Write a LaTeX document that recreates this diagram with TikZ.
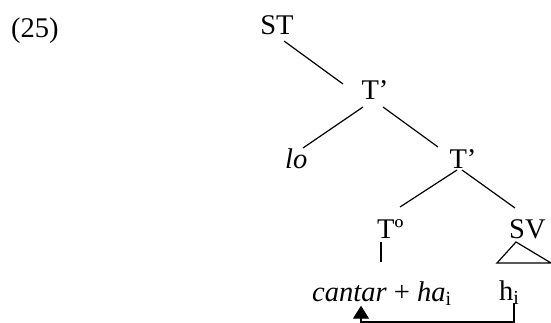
\documentclass[tikz,border=0pt]{standalone}
\usepackage{fontspec}
\setmainfont{Liberation Serif}
\usetikzlibrary{calc,arrows.meta}
\begin{document}
\begin{tikzpicture}[x=1pt,y=-1pt,
  lbl/.style={inner sep=0pt,font=\fontsize{28.5}{34}\selectfont},
  edge/.style={line width=1.2pt},
  arr/.style={line width=1.2pt,-{Triangle[width=16pt,length=13pt]}}]
\useasboundingbox (0,0) rectangle (551,323);
\node[lbl,anchor=base west] (num) at (11,38) {(25)};
\node[lbl,anchor=base] (st) at (277,34.5) {ST};
\node[lbl,anchor=base] (t1) at (375,100) {T’};
\node[lbl,anchor=base west] (lo) at (285,169) {\itshape lo};
\node[lbl,anchor=base] (t2) at (463,169) {T’};
\node[lbl,anchor=base west] (t0) at (377,238) {Tº};
\node[lbl,anchor=base west] (sv) at (509,238) {SV};
\node[lbl,anchor=base west] (cant) at (312,301) {\textit{cantar} + \textit{ha}\textsubscript{i}};
\node[lbl,anchor=base west] (hi) at (499,300) {h\textsubscript{i}};
% edges
\draw[edge] ($(st.base)+(7,6.5)$) -- ($(t1.base)+(-32,-16)$);
\draw[edge] ($(t1.base)+(-12,7)$) -- ($(lo.base west)+(18,-21)$);
\draw[edge] ($(t1.base)+(8,7)$) -- ($(t2.base)+(-25,-22)$);
\draw[edge] ($(t2.base)+(-6,1)$) -- ($(t0.base west)+(23,-31)$);
\draw[edge] ($(t2.base)+(-1,1)$) -- ($(sv.base west)+(6,-30)$);
\draw[edge] ($(t0.base west)+(4,4)$) -- ($(t0.base west)+(4,24)$);
\draw[edge,line join=miter] ($(sv.base west)+(7,4)$) -- ($(sv.base west)+(-12,25)$) -- ($(sv.base west)+(42,25)$) -- cycle;
\draw[arr] ($(hi.base west)+(15,3)$) -- ++(0,19) -| ($(cant.base west)+(49,4.7)$);
\end{tikzpicture}
\end{document}
